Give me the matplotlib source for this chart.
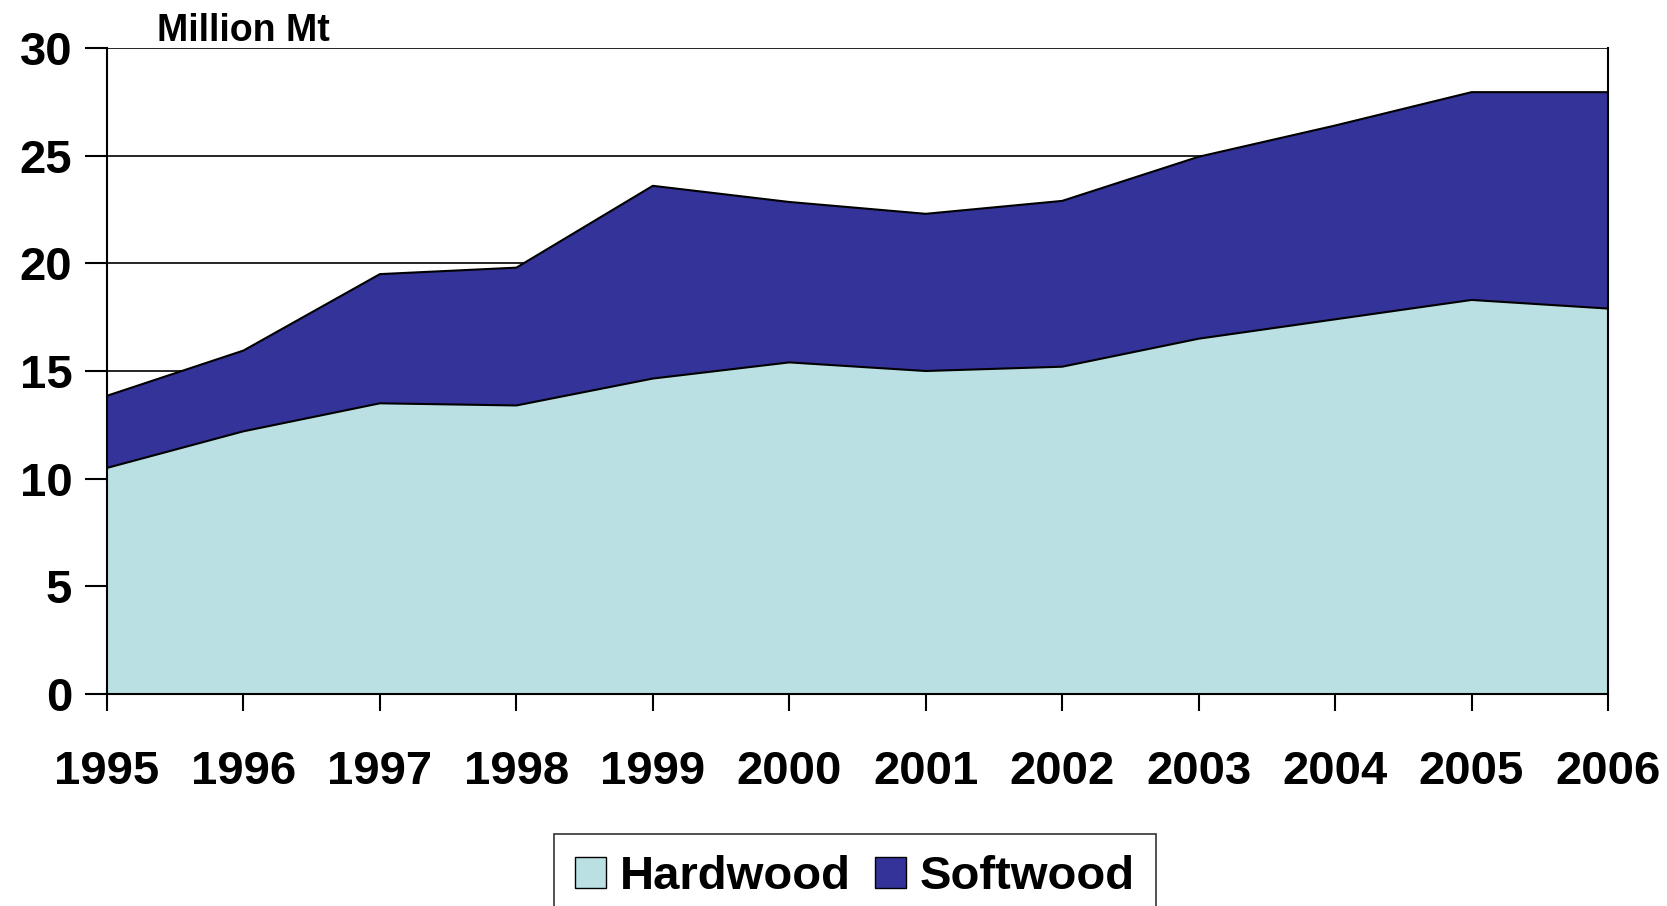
import matplotlib.pyplot as plt
from matplotlib.patches import Patch

years = [1995, 1996, 1997, 1998, 1999, 2000, 2001, 2002, 2003, 2004, 2005, 2006]
hardwood = [10.5, 12.2, 13.5, 13.4, 14.65, 15.4, 15.0, 15.2, 16.5, 17.4, 18.3, 17.9]
total = [13.85, 15.95, 19.5, 19.8, 23.6, 22.85, 22.3, 22.9, 24.95, 26.4, 27.95, 27.95]
softwood = [t - h for t, h in zip(total, hardwood)]
yticks = [0, 5, 10, 15, 20, 25, 30]

hard_col = '#BAE0E3'
soft_col = '#333399'

plt.rcParams['font.family'] = ['Liberation Sans', 'DejaVu Sans']
plt.rcParams['font.weight'] = 'bold'

fig = plt.figure(figsize=(16.67, 9.06), dpi=100)
ax = fig.add_axes([0.0642, 0.234, 0.9004, 0.713])

top = [h + s for h, s in zip(hardwood, softwood)]
ax.fill_between(years, 0, hardwood, facecolor=hard_col, edgecolor='none', zorder=2)
ax.fill_between(years, hardwood, top, facecolor=soft_col, edgecolor='none', zorder=2)
ax.plot(years, hardwood, color='black', lw=1.5, zorder=3)
ax.plot(years, top, color='black', lw=1.5, zorder=3)

for y in yticks[1:]:
    ax.axhline(y, color='black', lw=1.2, zorder=1)

ax.set_xlim(years[0], years[-1])
ax.set_ylim(0, 30)
ax.set_yticks(yticks)
ax.set_xticks(years)
ax.tick_params(axis='y', direction='out', length=16, width=1.5, labelsize=34, pad=9)
ax.tick_params(axis='x', direction='out', length=12, width=1.5, labelsize=34, pad=28)
for lab in ax.get_xticklabels() + ax.get_yticklabels():
    lab.set_fontweight('bold')
for sp in ax.spines.values():
    sp.set_linewidth(1.5)
ax.spines['top'].set_visible(False)

fig.text(0.094, 0.946, 'Million Mt', fontsize=27, fontweight='bold', ha='left', va='bottom')

handles = [Patch(facecolor=hard_col, edgecolor='black', label='Hardwood'),
           Patch(facecolor=soft_col, edgecolor='black', label='Softwood')]
leg = fig.legend(handles=handles, loc='upper center', bbox_to_anchor=(0.513, 0.0795),
                 ncol=2, fontsize=34, frameon=True, fancybox=False, handlelength=0.65,
                 handleheight=0.65, handletextpad=0.3, columnspacing=0.5,
                 borderpad=0.45, borderaxespad=0)
leg.get_frame().set_edgecolor('black')
leg.get_frame().set_linewidth(1.2)
for t in leg.get_texts():
    t.set_fontweight('bold')

fig.savefig('out.png', dpi=100)
